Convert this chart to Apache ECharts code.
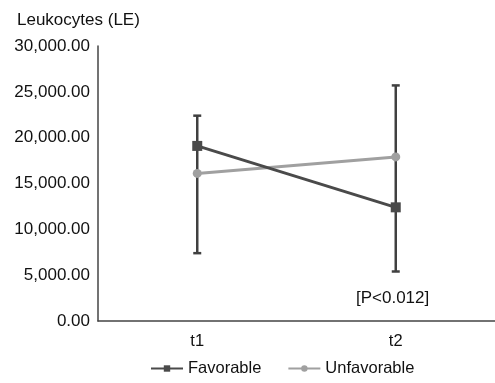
<!DOCTYPE html>
<html>
<head>
<meta charset="utf-8">
<script src="https://cdn.jsdelivr.net/npm/echarts@6/dist/echarts.min.js"></script>
<style>html,body{margin:0;padding:0;background:#fff}#c{width:495px;height:383px}</style>
</head>
<body>
<div id="c"></div>
<script>
var categories = ['t1', 't2'];
var favorable = [19100, 12400];
var unfavorable = [16100, 17900];
var errLow = [7400, 5400];
var errHigh = [22400, 25700];
var yTicks = [0, 5000, 10000, 15000, 20000, 25000, 30000];

var chart = echarts.init(document.getElementById('c'));
var font = 'Liberation Sans, Arial, Helvetica, sans-serif';
var errData = categories.map(function (c, i) { return [i, errLow[i], errHigh[i]]; });

chart.setOption({
  animation: false,
  textStyle: { fontFamily: font },
  title: {
    text: 'Leukocytes (LE)', left: 12, top: 7,
    textStyle: { fontSize: 17, fontWeight: 'normal', color: '#111', fontFamily: font }
  },
  legend: {
    bottom: 1, left: 145, itemGap: 26, itemWidth: 32, itemHeight: 8,
    textStyle: { fontSize: 16.5, color: '#111', fontFamily: font },
    data: ['Favorable', 'Unfavorable']
  },
  grid: { left: 98, right: -1, top: 46, bottom: 62 },
  xAxis: {
    type: 'category', data: categories, boundaryGap: true,
    axisLine: { lineStyle: { color: '#444', width: 1.5 } },
    axisTick: { show: false },
    axisLabel: { fontSize: 16.5, color: '#111', margin: 12, fontFamily: font }
  },
  yAxis: {
    type: 'value', min: yTicks[0], max: yTicks[yTicks.length - 1], interval: 5000,
    axisLine: { show: true, lineStyle: { color: '#444', width: 1.5 } },
    axisTick: { show: false },
    splitLine: { show: false },
    axisLabel: {
      fontSize: 17, color: '#111', margin: 8, fontFamily: font,
      formatter: function (v) { return v.toLocaleString('en-US', { minimumFractionDigits: 2, maximumFractionDigits: 2 }); }
    }
  },
  graphic: [{
    type: 'text', left: 356, top: 290,
    style: { text: '[P<0.012]', fontSize: 17, fill: '#111', fontFamily: font }
  }],
  series: [
    {
      type: 'custom', name: 'err', z: 1, silent: true,
      renderItem: function (params, api) {
        var x = api.value(0);
        var lo = api.coord([x, api.value(1)]);
        var hi = api.coord([x, api.value(2)]);
        var st = { stroke: '#404040', lineWidth: 2.5 };
        return {
          type: 'group', children: [
            { type: 'line', shape: { x1: lo[0], y1: lo[1], x2: hi[0], y2: hi[1] }, style: st },
            { type: 'line', shape: { x1: lo[0] - 4, y1: lo[1], x2: lo[0] + 4, y2: lo[1] }, style: st },
            { type: 'line', shape: { x1: hi[0] - 4, y1: hi[1], x2: hi[0] + 4, y2: hi[1] }, style: st }
          ]
        };
      },
      data: errData
    },
    {
      name: 'Favorable', type: 'line', data: favorable, z: 3,
      symbol: 'rect', symbolSize: 10,
      lineStyle: { color: '#4a4a4a', width: 3 },
      itemStyle: { color: '#4a4a4a' }
    },
    {
      name: 'Unfavorable', type: 'line', data: unfavorable, z: 2,
      symbol: 'circle', symbolSize: 9,
      lineStyle: { color: '#a0a0a0', width: 3 },
      itemStyle: { color: '#a0a0a0' }
    }
  ]
});
</script>
</body>
</html>
